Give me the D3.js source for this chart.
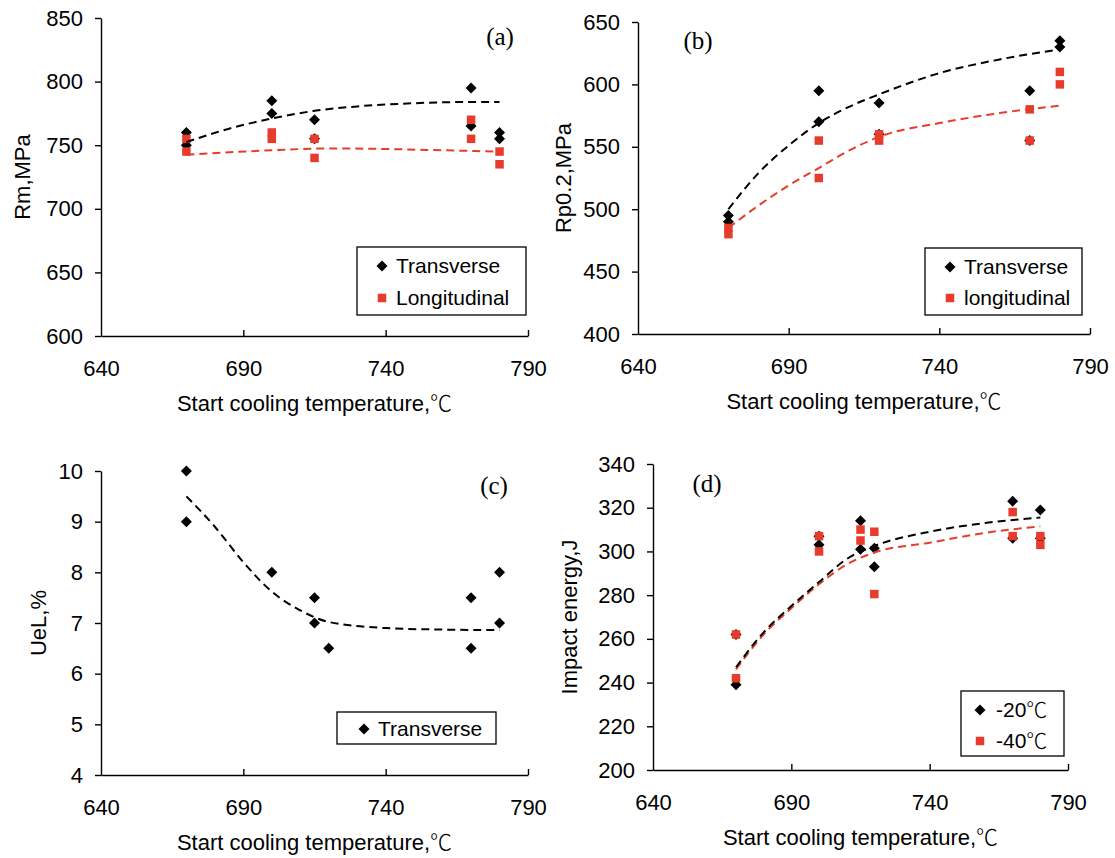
<!DOCTYPE html>
<html>
<head>
<meta charset="utf-8">
<script src="https://cdn.jsdelivr.net/npm/d3@7"></script>
<style>
  body { margin: 0; background: #fff; }
  svg { display: block; }
  text { font-family: "Liberation Sans", Arial, "Noto Sans CJK SC", sans-serif; fill: #000; }
  .deg { font-family: "Noto Sans CJK SC", sans-serif; font-weight: 300; }
</style>
</head>
<body>
<div id="container"></div>
<script>
// ---------------------------------------------------------------------
// Data: [temperature, value]
const rmTransverse = [[670,760],[670,750],[700,785],[700,775],[715,770],[715,755],[770,795],[770,765],[780,760],[780,755]];
const rmLongitudinal = [[670,755],[670,745],[700,760],[700,755],[715,755],[715,740],[770,770],[770,755],[780,745],[780,735]];
const rmTransTrend = [[670,752.5],[685,763],[700,771],[715,777],[730,780.5],[750,783],[770,784],[780,784]];
const rmLongTrend = [[670,742.5],[700,746],[720,747.5],[740,747],[760,746],[780,745]];

const rpTransverse = [[670,495],[670,490],[700,595],[700,570],[720,585],[720,560],[770,595],[770,555],[780,635],[780,630]];
const rpLongitudinal = [[670,485],[670,480],[700,555],[700,525],[720,560],[720,555],[770,580],[770,555],[780,610],[780,600]];
const rpTransTrend = [[670,500],[680,529],[690,551],[700,569],[710,582],[720,592],[740,609],[760,620],[780,628]];
const rpLongTrend = [[670,485],[680,503],[690,519],[700,533],[710,547],[720,558],[740,569],[760,577],[780,583]];

const uelTransverse = [[670,10],[670,9],[700,8],[715,7.5],[715,7],[720,6.5],[770,7.5],[770,6.5],[780,8],[780,7]];
const uelTrend = [[670,9.5],[680,8.9],[690,8.2],[700,7.62],[710,7.25],[720,7.02],[740,6.9],[760,6.87],[780,6.86]];

const impact20 = [[670,239],[670,262],[700,303],[700,307],[715,314],[715,301],[720,301.5],[720,293],[770,323],[770,306],[780,319],[780,306]];
const impact40 = [[670,262],[670,242],[700,307],[700,300],[715,310],[715,305],[720,309],[720,280.5],[770,318],[770,307],[780,307],[780,303]];
const impact20Trend = [[670,247],[680,263],[690,275],[700,286],[710,296.5],[720,302.5],[740,309],[760,313],[780,315.5]];
const impact40Trend = [[670,246],[680,262],[690,274],[700,285],[710,294],[720,299.5],[740,304],[760,308.5],[780,311.5]];

const xTicks = [640, 690, 740, 790];
const xTitle = "Start cooling temperature,";
const DEG = "\u2103";

const BLACK = "#000";
const RED = "#e63c2b";

const panels = [
    { tag: "(a)", tagX: 500, tagY: 45, left: 101, right: 528, top: 18, bottom: 336,
      yDomain: [600, 850], yTicks: d3.range(600, 851, 50), yTitle: "Rm,MPa", yTitleX: 22,
      series: [
        { data: rmTransverse, trend: rmTransTrend, shape: "diamond", color: BLACK, name: "Transverse" },
        { data: rmLongitudinal, trend: rmLongTrend, shape: "square", color: RED, name: "Longitudinal" }],
      legend: { x: 357, y: 247, w: 169, h: 68, markX: 382, textX: 396, rows: [266, 298] } },
    { tag: "(b)", tagX: 698, tagY: 49, left: 638, right: 1090, top: 22, bottom: 334,
      yDomain: [400, 650], yTicks: d3.range(400, 651, 50), yTitle: "Rp0.2,MPa", yTitleX: 563,
      series: [
        { data: rpTransverse, trend: rpTransTrend, shape: "diamond", color: BLACK, name: "Transverse" },
        { data: rpLongitudinal, trend: rpLongTrend, shape: "square", color: RED, name: "longitudinal" }],
      legend: { x: 925, y: 248, w: 157, h: 67, markX: 950, textX: 964, rows: [267, 298] } },
    { tag: "(c)", tagX: 494, tagY: 494, left: 101, right: 528, top: 471, bottom: 775,
      yDomain: [4, 10], yTicks: d3.range(4, 11, 1), yTitle: "UeL,%", yTitleX: 38,
      series: [
        { data: uelTransverse, trend: uelTrend, shape: "diamond", color: BLACK, name: "Transverse" }],
      legend: { x: 337, y: 712, w: 159, h: 32, markX: 364, textX: 378, rows: [729] } },
    { tag: "(d)", tagX: 707, tagY: 492, left: 653, right: 1068, top: 464, bottom: 770,
      yDomain: [200, 340], yTicks: d3.range(200, 341, 20), yTitle: "Impact energy,J", yTitleX: 569,
      series: [
        { data: impact20, trend: impact20Trend, shape: "diamond", color: BLACK, name: "-20", deg: true },
        { data: impact40, trend: impact40Trend, shape: "square", color: RED, name: "-40", deg: true }],
      legend: { x: 961, y: 691, w: 103, h: 65, markX: 980, textX: 996, rows: [710, 741] } },
];

// ---------------------------------------------------------------------
// Drawing
const svg = d3.select("#container").append("svg")
    .attr("width", 1115)
    .attr("height", 858);

function marker(g, shape, color, cx, cy) {
    if (shape === "diamond") {
        const r = 5.5;
        g.append("path")
            .attr("d", `M${cx},${cy - r}L${cx + r},${cy}L${cx},${cy + r}L${cx - r},${cy}Z`)
            .attr("fill", color);
    } else {
        const s = 8.5;
        g.append("rect")
            .attr("x", cx - s / 2).attr("y", cy - s / 2)
            .attr("width", s).attr("height", s)
            .attr("fill", color);
    }
}

panels.forEach(p => {
    const g = svg.append("g");

    const x = d3.scaleLinear().domain([640, 790]).range([p.left, p.right]);
    const y = d3.scaleLinear().domain(p.yDomain).range([p.bottom, p.top]);

    // x axis (ticks point inward)
    const xAxis = g.append("g")
        .attr("transform", `translate(0,${p.bottom})`)
        .call(d3.axisBottom(x).tickValues(xTicks).tickSize(-6).tickSizeOuter(0).tickFormat(d3.format("d")));
    // y axis (ticks point outward)
    const yAxis = g.append("g")
        .attr("transform", `translate(${p.left},0)`)
        .call(d3.axisLeft(y).tickValues(p.yTicks).tickSize(6).tickSizeOuter(0).tickPadding(12)
            .tickFormat(d3.format("d")));

    [xAxis, yAxis].forEach(a => {
        a.select(".domain").attr("stroke", "#000").attr("stroke-width", 1.4);
        a.selectAll(".tick line").attr("stroke", "#000").attr("stroke-width", 1.4);
        a.selectAll(".tick text")
            .attr("font-family", "Liberation Sans, Arial, sans-serif")
            .attr("font-size", 22)
            .attr("fill", "#000");
    });
    xAxis.selectAll(".tick text").attr("dy", "0.71em").attr("y", 24);
    xAxis.selectAll(".tick").filter(d => d === 640).select("line").remove();

    // axis titles
    const xt = g.append("text")
        .attr("x", (p.left + p.right) / 2)
        .attr("y", p.bottom + 75)
        .attr("text-anchor", "middle")
        .attr("font-size", 22)
        .text(xTitle);
    xt.append("tspan").attr("class", "deg").text(DEG);
    g.append("text")
        .attr("transform", `translate(${p.yTitleX},${(p.top + p.bottom) / 2}) rotate(-90)`)
        .attr("text-anchor", "middle")
        .attr("dy", "0.35em")
        .attr("font-size", 22)
        .text(p.yTitle);

    // points
    p.series.forEach(s => {
        s.data.forEach(d => marker(g, s.shape, s.color, x(d[0]), y(d[1])));
    });

    // trend lines
    const line = d3.line()
        .x(d => x(d[0]))
        .y(d => y(d[1]))
        .curve(d3.curveMonotoneX);
    p.series.slice().reverse().forEach(s => {
        g.append("path")
            .datum(s.trend)
            .attr("fill", "none")
            .attr("stroke", s.color)
            .attr("stroke-width", 2)
            .attr("stroke-dasharray", "8,5")
            .attr("d", line);
    });

    // panel tag
    g.append("text")
        .attr("x", p.tagX)
        .attr("y", p.tagY)
        .attr("text-anchor", "middle")
        .style("font-family", "'Liberation Serif', 'Times New Roman', serif")
        .attr("font-size", 25)
        .text(p.tag);

    // legend
    const L = p.legend;
    g.append("rect")
        .attr("x", L.x).attr("y", L.y)
        .attr("width", L.w).attr("height", L.h)
        .attr("fill", "#fff")
        .attr("stroke", "#000")
        .attr("stroke-width", 1.3);
    p.series.forEach((s, i) => {
        marker(g, s.shape, s.color, L.markX, L.rows[i]);
        const t = g.append("text")
            .attr("x", L.textX)
            .attr("y", L.rows[i])
            .attr("dy", "0.35em")
            .attr("font-size", 21)
            .text(s.name);
        if (s.deg) t.append("tspan").attr("class", "deg").text(DEG);
    });
});
</script>
</body>
</html>
